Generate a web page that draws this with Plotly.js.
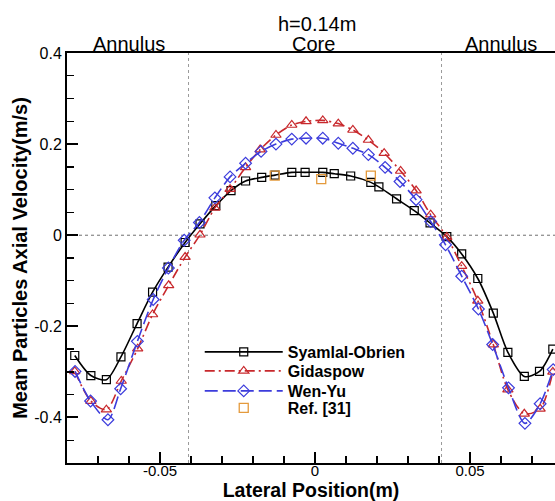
<!DOCTYPE html>
<html>
<head>
<meta charset="utf-8">
<script src="https://cdn.plot.ly/plotly-3.0.1.min.js"></script>
<style>html,body{margin:0;padding:0;background:#fff;}#chart{width:555px;height:501px;}</style>
</head>
<body>
<div id="chart"></div>
<script>
// Syamlal-Obrien
var syamlalX = [-0.0775, -0.0723, -0.0673, -0.0626, -0.0574, -0.0524, -0.0474, -0.0419, -0.0371, -0.032, -0.0271, -0.0224, -0.0172, -0.0129, -0.0075, -0.0032, 0.0025, 0.0062, 0.0115, 0.018, 0.0206, 0.0263, 0.032, 0.0371, 0.0425, 0.0473, 0.0525, 0.0575, 0.0622, 0.0675, 0.0724, 0.0767];
var syamlalY = [-0.264, -0.308, -0.317, -0.267, -0.194, -0.125, -0.070, -0.016, 0.025, 0.065, 0.098, 0.119, 0.127, 0.132, 0.138, 0.138, 0.138, 0.135, 0.130, 0.116, 0.106, 0.080, 0.054, 0.027, -0.003, -0.041, -0.095, -0.171, -0.257, -0.310, -0.299, -0.250];
// Gidaspow
var gidaspowX = [-0.0775, -0.0723, -0.0673, -0.0625, -0.0572, -0.0524, -0.0472, -0.0419, -0.0371, -0.0323, -0.0274, -0.0224, -0.0177, -0.0126, -0.0075, -0.0029, 0.0025, 0.0075, 0.0122, 0.0172, 0.0223, 0.0276, 0.0326, 0.0373, 0.0425, 0.0473, 0.0525, 0.0575, 0.0622, 0.0675, 0.0726, 0.0767];
var gidaspowY = [-0.299, -0.364, -0.383, -0.320, -0.249, -0.174, -0.110, -0.048, 0.001, 0.060, 0.101, 0.149, 0.188, 0.220, 0.242, 0.250, 0.252, 0.245, 0.231, 0.209, 0.180, 0.141, 0.098, 0.045, -0.004, -0.068, -0.144, -0.240, -0.339, -0.392, -0.381, -0.300];
// Wen-Yu
var wenyuX = [-0.0774, -0.0724, -0.0668, -0.0627, -0.0573, -0.0522, -0.0473, -0.0422, -0.0373, -0.0323, -0.0274, -0.0224, -0.0174, -0.0126, -0.0075, -0.0029, 0.0025, 0.0075, 0.0122, 0.0172, 0.0226, 0.0274, 0.0326, 0.0373, 0.0421, 0.0473, 0.0527, 0.0573, 0.0624, 0.0677, 0.0726, 0.0768];
var wenyuY = [-0.299, -0.364, -0.405, -0.337, -0.233, -0.141, -0.072, -0.011, 0.028, 0.082, 0.128, 0.158, 0.184, 0.200, 0.211, 0.213, 0.213, 0.202, 0.191, 0.177, 0.149, 0.118, 0.078, 0.030, -0.021, -0.090, -0.162, -0.240, -0.335, -0.413, -0.370, -0.295];
// Ref. [31]
var refX = [-0.013, 0.002, 0.018];
var refY = [0.131, 0.123, 0.131];

var xTickVals = [-0.05, 0, 0.05];
var xTickText = ["-0.05", "0", "0.05"];
var yTickVals = [-0.4, -0.2, 0, 0.2, 0.4];
var yTickText = ["-0.4", "-0.2", "0", "0.2", "0.4"];
var zoneBoundaries = [-0.0408, 0.0408];

var FONT = "Liberation Sans, Arial, Helvetica, sans-serif";

var traces = [
  {x: syamlalX, y: syamlalY, name: "Syamlal-Obrien", type: "scatter", mode: "lines+markers", legend: "legend",
   line: {color: "#000000", width: 1.6, shape: "spline", smoothing: 0.8},
   marker: {symbol: "square-open", size: 8, color: "#000000", line: {width: 1.2}}},
  {x: gidaspowX, y: gidaspowY, name: "Gidaspow", type: "scatter", mode: "lines+markers", legend: "legend2",
   line: {color: "#c8282c", width: 1.6, shape: "spline", smoothing: 0.8, dash: "10px,4px,2px,4px"},
   marker: {symbol: "triangle-up-open", size: 9, color: "#c8282c", line: {width: 1.2}}},
  {x: wenyuX, y: wenyuY, name: "Wen-Yu", type: "scatter", mode: "lines+markers", legend: "legend3",
   line: {color: "#3c3cdc", width: 1.6, shape: "spline", smoothing: 0.8, dash: "13px,5px"},
   marker: {symbol: "diamond-open", size: 9, color: "#3c3cdc", line: {width: 1.2}}},
  {x: refX, y: refY, name: "Ref. [31]", type: "scatter", mode: "markers", legend: "legend4",
   marker: {symbol: "square-open", size: 9, color: "#e49a3c", line: {width: 1.3}}}
];

var shapes = [];
zoneBoundaries.forEach(function (b) {
  shapes.push({type: "line", xref: "x", yref: "paper", x0: b, x1: b, y0: 0, y1: 1, layer: "below",
    line: {color: "#9a9a9a", width: 1, dash: "dot"}});
});
shapes.push({type: "line", xref: "paper", yref: "y", x0: 0, x1: 1, y0: 0, y1: 0, layer: "below",
  line: {color: "#707070", width: 1, dash: "dot"}});

function legendAt(yPaper) {
  return {x: 0.272, y: yPaper, xanchor: "left", yanchor: "middle", bgcolor: "rgba(0,0,0,0)",
    itemwidth: 78, font: {family: FONT, size: 16, weight: "bold", color: "#000"}};
}

var layout = {
  width: 555, height: 501,
  margin: {l: 67, r: 0, t: 53, b: 38, pad: 0},
  paper_bgcolor: "#ffffff", plot_bgcolor: "#ffffff",
  font: {family: FONT, color: "#000000", size: 16},
  showlegend: true,
  legend: legendAt(0.2707),
  legend2: legendAt(0.2244),
  legend3: legendAt(0.1756),
  legend4: legendAt(0.1341),
  xaxis: {range: [-0.08, 0.0774], showgrid: false, zeroline: false, showline: true, mirror: true,
    linecolor: "#000", linewidth: 2, ticks: "inside", ticklen: 11, tickwidth: 2, tickcolor: "#000",
    tickmode: "array", tickvals: xTickVals, ticktext: xTickText, tickfont: {size: 15}, ticklabelstandoff: -7,
    minor: {ticks: "inside", tickmode: "linear", tick0: 0, dtick: 0.01, ticklen: 7, tickwidth: 1.3, tickcolor: "#000", showgrid: false},
    title: {text: "Lateral Position(m)", font: {size: 19.5, weight: "bold"}, standoff: 12}},
  yaxis: {range: [-0.5, 0.4], showgrid: false, zeroline: false, showline: true, mirror: false,
    linecolor: "#000", linewidth: 2, ticks: "inside", ticklen: 11, tickwidth: 2, tickcolor: "#000",
    tickmode: "array", tickvals: yTickVals, ticktext: yTickText, tickfont: {size: 16},
    minor: {ticks: "inside", tickmode: "linear", tick0: 0, dtick: 0.05, ticklen: 7, tickwidth: 1.3, tickcolor: "#000", showgrid: false},
    title: {text: "Mean Particles Axial Velocity(m/s)", font: {size: 20, weight: "bold"}, standoff: 1}},
  shapes: shapes,
  annotations: [
    {text: "h=0.14m", xref: "x", yref: "paper", x: 0.0005, y: 1.070, showarrow: false, font: {size: 20}, yanchor: "middle"},
    {text: "Annulus", xref: "x", yref: "paper", x: -0.06, y: 1.022, showarrow: false, font: {size: 20}, yanchor: "middle"},
    {text: "Core", xref: "x", yref: "paper", x: -0.0005, y: 1.022, showarrow: false, font: {size: 20}, yanchor: "middle"},
    {text: "Annulus", xref: "x", yref: "paper", x: 0.06, y: 1.022, showarrow: false, font: {size: 20}, yanchor: "middle"}
  ]
};

Plotly.newPlot("chart", traces, layout, {staticPlot: true, displayModeBar: false});
</script>
</body>
</html>
